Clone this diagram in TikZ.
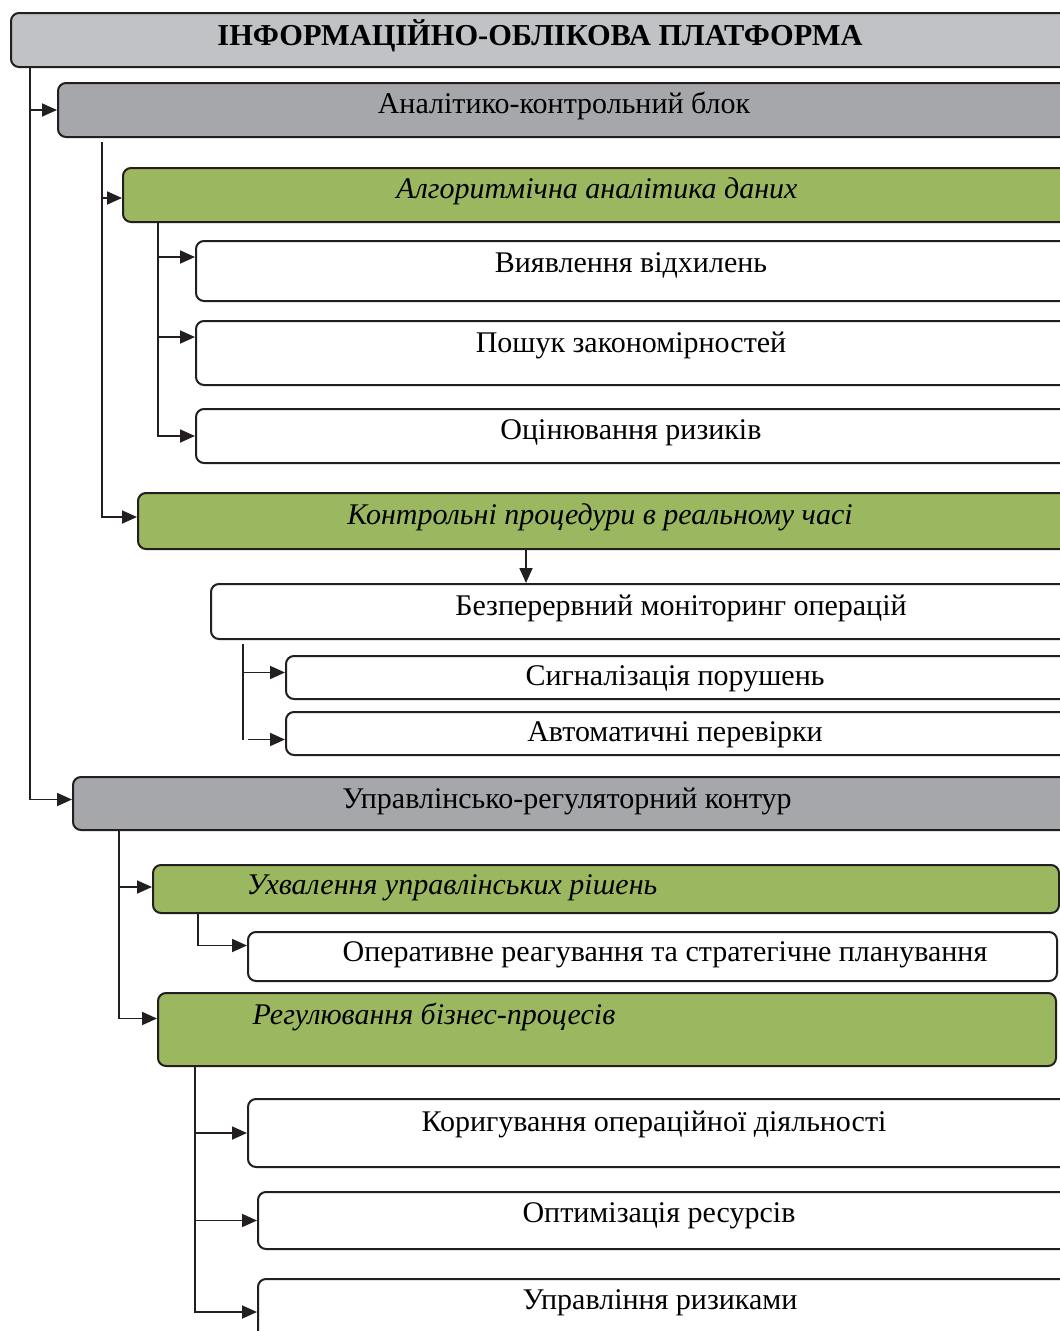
\documentclass[tikz,border=0pt]{standalone}
\usepackage{fontspec}
\setmainfont{Liberation Serif}
\usetikzlibrary{arrows.meta}
\definecolor{bordc}{HTML}{231F20}
\definecolor{titlec}{HTML}{C1C2C5}
\definecolor{grayc}{HTML}{A6A7AB}
\definecolor{greenc}{HTML}{9BB75F}
\tikzset{
  box/.style={draw=bordc, line width=2pt, rounded corners=8pt, anchor=north west, inner sep=0pt, minimum width=#1},
  box/.default=1100pt,
  txt/.style={inner sep=0pt, font=\fontsize{30}{34}\selectfont, text=black},
  ttl/.style={inner sep=0pt, font=\fontsize{30.4}{34}\selectfont\bfseries, text=black},
  itx/.style={inner sep=0pt, font=\fontsize{30}{34}\selectfont\itshape, text=black},
  conn/.style={draw=bordc, line width=1.8pt},
  arr/.style={conn, -{Triangle[length=15pt,width=13pt]}},
}
\begin{document}
\begin{tikzpicture}[x=1pt,y=-1pt]
\useasboundingbox[fill=white] (0,0) rectangle (1060,1331);
% boxes
\node[box, fill=titlec, minimum height=54pt] (b1) at (10,12) {};
\node[box, fill=grayc, minimum height=54pt] (b2) at (57,82) {};
\node[box, fill=greenc, minimum height=54pt] (b3) at (122,167) {};
\node[box, fill=white, minimum height=60pt] (b4) at (195,240) {};
\node[box, fill=white, minimum height=64pt] (b5) at (195,320) {};
\node[box, fill=white, minimum height=54pt] (b6) at (195,408) {};
\node[box, fill=greenc, minimum height=56pt] (b7) at (137,492) {};
\node[box, fill=white, minimum height=55pt] (b8) at (210,583) {};
\node[box, fill=white, minimum height=43pt] (b9) at (285,655) {};
\node[box, fill=white, minimum height=43pt] (b10) at (285,711) {};
\node[box, fill=grayc, minimum height=53pt] (b11) at (72,776) {};
\node[box=906pt, fill=greenc, minimum height=48pt] (b12) at (152,864) {};
\node[box=809pt, fill=white, minimum height=49pt] (b13) at (247,931) {};
\node[box=898pt, fill=greenc, minimum height=73pt] (b14) at (157,992) {};
\node[box, fill=white, minimum height=68pt] (b15) at (247,1098) {};
\node[box, fill=white, minimum height=57pt] (b16) at (257,1191) {};
\node[box, fill=white, minimum height=66pt] (b17) at (257,1278) {};
% texts
\node[ttl] (t1) at (540,36) {ІНФОРМАЦІЙНО-ОБЛІКОВА ПЛАТФОРМА};
\node[txt] (t2) at (564,106) {Аналітико-контрольний блок};
\node[itx] (t3) at (597,191) {Алгоритмічна аналітика даних};
\node[txt] (t4) at (631,265) {Виявлення відхилень};
\node[txt] (t5) at (631,345) {Пошук закономірностей};
\node[txt] (t6) at (631,433) {Оцінювання ризиків};
\node[itx] (t7) at (600,517) {Контрольні процедури в реальному часі};
\node[txt] (t8) at (681,608) {Безперервний моніторинг операцій};
\node[txt] (t9) at (675,679) {Сигналізація порушень};
\node[txt] (t10) at (675,735) {Автоматичні перевірки};
\node[txt] (t11) at (567,801) {Управлінсько-регуляторний контур};
\node[itx] (t12) at (452,888) {Ухвалення управлінських рішень};
\node[txt] (t13) at (665,955) {Оперативне реагування та стратегічне планування};
\node[itx] (t14) at (434,1017) {Регулювання бізнес-процесів};
\node[txt] (t15) at (654,1124) {Коригування операційної діяльності};
\node[txt] (t16) at (659,1216) {Оптимізація ресурсів};
\node[txt] (t17) at (660,1303) {Управління ризиками};
% connectors
\draw[arr] ([xshift=20pt]b1.south west) |- (b2.west);
\draw[arr] ([xshift=20pt]b1.south west) |- ([yshift=4pt]b11.west);
\draw[arr] ([xshift=45pt,yshift=-4pt]b2.south west) |- ([yshift=-3pt]b3.west);
\draw[arr] ([xshift=45pt,yshift=-4pt]b2.south west) |- ([yshift=4pt]b7.west);
\draw[arr] ([xshift=36pt]b3.south west) |- ([yshift=14pt]b4.west);
\draw[arr] ([xshift=36pt]b3.south west) |- ([yshift=16pt]b5.west);
\draw[arr] ([xshift=36pt]b3.south west) |- (b6.west);
\coordinate (k7) at ([xshift=389pt]b7.south west);
\draw[arr] (k7) -- (k7 |- b8.north);
\draw[arr] ([xshift=33pt,yshift=-4pt]b8.south west) |- ([yshift=5pt]b9.west);
\draw[conn] ([xshift=33pt,yshift=-4pt]b8.south west) -- ++(0,96) coordinate (k8);
\coordinate (k10) at ([yshift=-6pt]b10.west);
\draw[arr] (k10 -| 248,0) -- (k10);
\draw[arr] ([xshift=47pt]b11.south west) |- ([yshift=2pt]b12.west);
\draw[arr] ([xshift=47pt]b11.south west) |- ([yshift=11pt]b14.west);
\draw[arr] ([xshift=46pt]b12.south west) |- ([yshift=11pt]b13.west);
\draw[arr] ([xshift=38pt,yshift=2pt]b14.south west) |- (b15.west);
\draw[arr] ([xshift=38pt,yshift=2pt]b14.south west) |- (b16.west);
\draw[arr] ([xshift=38pt,yshift=2pt]b14.south west) |- (b17.west);
\end{tikzpicture}
\end{document}
